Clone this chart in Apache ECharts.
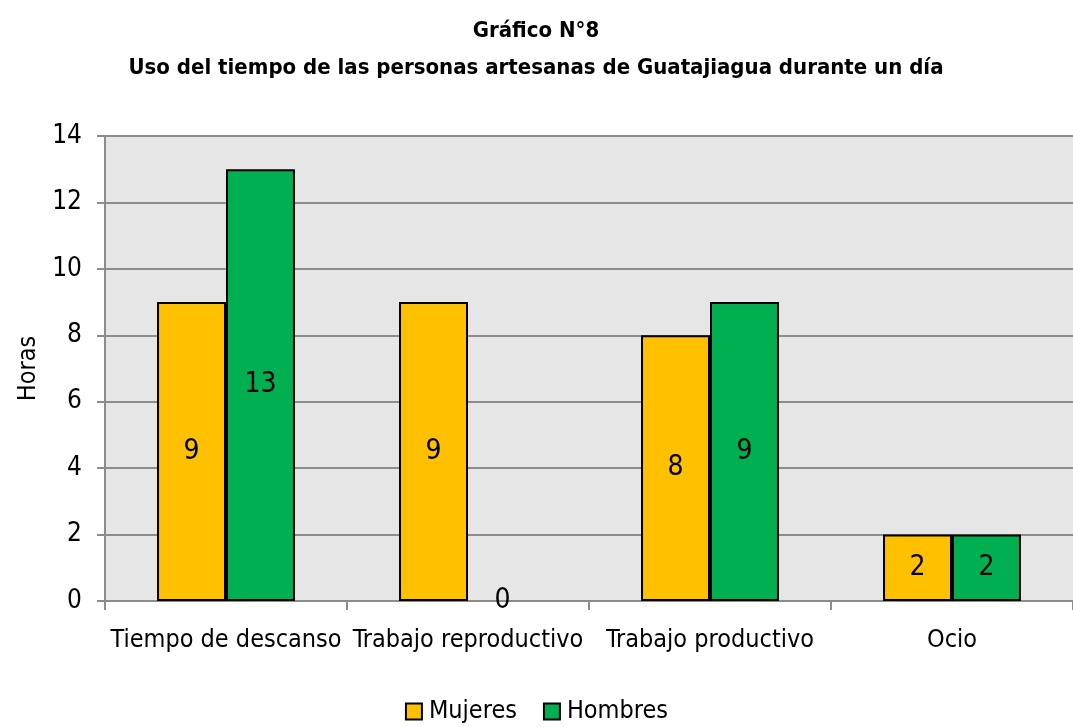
<!DOCTYPE html>
<html>
<head>
<meta charset="utf-8">
<script src="https://cdn.jsdelivr.net/npm/echarts@6/dist/echarts.min.js"></script>
<style>
    html, body { margin: 0; padding: 0; background: #fff; }
    #chart { width: 1073px; height: 727px; }
</style>
</head>
<body>
<div id="chart"></div>
<script>
    // data
    var categories = ['Tiempo de descanso', 'Trabajo reproductivo', 'Trabajo productivo', 'Ocio'];
    var mujeres = [9, 9, 8, 2];
    var hombres = [13, 0, 9, 2];
    var yTicks = [0, 2, 4, 6, 8, 10, 12, 14];

    var font = '"Liberation Sans Narrow", "DejaVu Sans Condensed", "Liberation Sans", sans-serif';

    // a zero-height bar shows only its label, no outline
    function toBars(values) {
        return values.map(function (v) {
            return v === 0 ? { value: v, itemStyle: { borderWidth: 0 } } : v;
        });
    }

    var myChart = echarts.init(document.getElementById('chart'));
    var barLabel = {
        show: true,
        position: 'inside',
        color: '#000',
        fontFamily: font,
        fontSize: 28
    };
    var option = {
        animation: false,
        color: ['#FFC000', '#00B050'],
        title: {
            text: 'Gráfico N°8\nUso del tiempo de las personas artesanas de Guatajiagua durante un día',
            left: 531,
            textAlign: 'center',
            top: 8,
            textStyle: {
                fontFamily: font,
                fontWeight: 'bold',
                fontSize: 22,
                lineHeight: 37,
                color: '#000'
            }
        },
        legend: {
            bottom: -2,
            left: 'center',
            itemWidth: 16,
            itemHeight: 16,
            itemGap: 26,
            icon: 'rect',
            itemStyle: { borderColor: '#000', borderWidth: 2 },
            textStyle: { fontFamily: font, fontSize: 25, color: '#000', padding: [0, 0, 0, 2] },
            data: ['Mujeres', 'Hombres']
        },
        grid: {
            left: 105,
            right: 0,
            top: 136,
            bottom: 126,
            show: true,
            backgroundColor: '#E6E6E6',
            borderWidth: 0
        },
        xAxis: {
            type: 'category',
            data: categories,
            axisLine: { lineStyle: { color: '#8C8C8C', width: 2 } },
            axisTick: { show: true, length: 9, lineStyle: { color: '#8C8C8C', width: 2 } },
            axisLabel: {
                interval: 0,
                color: '#000',
                fontFamily: font,
                fontSize: 25,
                margin: 27
            }
        },
        yAxis: {
            type: 'value',
            min: yTicks[0],
            max: yTicks[yTicks.length - 1],
            interval: 2,
            name: 'Horas',
            nameLocation: 'middle',
            nameRotate: 90,
            nameGap: 64,
            nameTextStyle: { color: '#000', fontFamily: font, fontSize: 25 },
            axisLine: { show: true, lineStyle: { color: '#8C8C8C', width: 2 } },
            axisTick: { show: true, length: 8, lineStyle: { color: '#8C8C8C', width: 2 } },
            axisLabel: {
                color: '#000',
                fontFamily: font,
                fontSize: 26,
                margin: 23
            },
            splitLine: { show: true, lineStyle: { color: '#8C8C8C', width: 2 } }
        },
        series: [
            {
                name: 'Mujeres',
                type: 'bar',
                data: toBars(mujeres),
                barGap: '0%',
                barCategoryGap: '43%',
                itemStyle: { borderColor: '#000', borderWidth: 2 },
                label: barLabel
            },
            {
                name: 'Hombres',
                type: 'bar',
                data: toBars(hombres),
                itemStyle: { borderColor: '#000', borderWidth: 2 },
                label: barLabel
            }
        ]
    };
    myChart.setOption(option);
    window.addEventListener('resize', function () {
        myChart.resize();
    });
</script>
</body>
</html>
